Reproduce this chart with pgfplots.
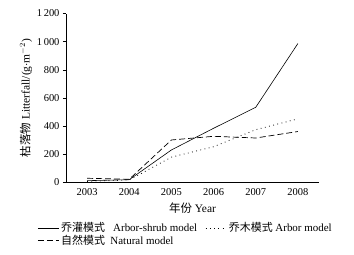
\documentclass[border=0pt]{standalone}
\usepackage{fontspec}
\setmainfont{Liberation Serif}
\newfontfamily\cjk{Noto Sans CJK SC}
\usepackage{pgfplots}
\pgfplotsset{compat=1.18}
\begin{document}
\begin{tikzpicture}
\useasboundingbox (-66bp,-72.5bp) rectangle (288bp,182.5bp);
\begin{axis}[
  scale only axis,
  width=253bp, height=169bp,
  xmin=-0.5, xmax=5.5,
  ymin=0, ymax=1200,
  axis lines=left,
  axis line style={-, line width=0.6pt},
  xtick={0,1,2,3,4,5},
  xticklabels={2003,2004,2005,2006,2007,2008},
  major x tick style={draw=none},
  extra x ticks={0.5,1.5,2.5,3.5,4.5,5.5},
  extra x tick labels={},
  extra x tick style={tick align=inside, major tick length=4bp, tick style={draw=black, line width=0.5pt}},
  ytick={0,200,400,600,800,1000,1200},
  tick align=outside,
  major tick length=3bp,
  tick style={line width=0.5pt, black},
  /pgf/number format/assume math mode=true,
  /pgf/number format/1000 sep={\,},
  scaled y ticks=false,
  tick label style={font=\fontsize{10.5}{12}\selectfont},
  xlabel={{\cjk 年份} Year},
  ylabel={{\cjk 枯落物} Litterfall/(g$\cdot$m$^{-2}$)},
  label style={font=\fontsize{11.5}{13}\selectfont},
  xlabel style={yshift=3bp},
  ylabel style={yshift=-2bp},
  legend columns=2,
  legend cell align=left,
  legend style={draw=none, fill=none, at={(axis description cs:-0.125,-0.213)}, anchor=north west,
    font=\fontsize{11}{12}\selectfont, row sep=-2bp,
    /tikz/every even column/.append style={column sep=6bp}},
  legend image code/.code={\draw[#1, line width=0.6pt] (0bp,0bp) -- (21bp,0bp);},
]
\addplot[black, line width=0.6pt] coordinates {(0,13) (1,20) (2,231) (3,385) (4,534) (5,987)};
\addlegendentry{{\cjk 乔灌模式}\ \ \ Arbor-shrub model}
\addplot[black, line width=0.8pt, dash pattern=on 0.8pt off 3.5pt] coordinates {(0,8) (1,18) (2,180) (3,254) (4,375) (5,452)};
\addlegendentry{{\cjk 乔木模式} Arbor model}
\addplot[black, line width=0.7pt, dash pattern=on 6pt off 3pt] coordinates {(0,30) (1,23) (2,302) (3,328) (4,316) (5,362)};
\addlegendentry{{\cjk 自然模式}\ \ Natural model}
\end{axis}
\end{tikzpicture}
\end{document}
